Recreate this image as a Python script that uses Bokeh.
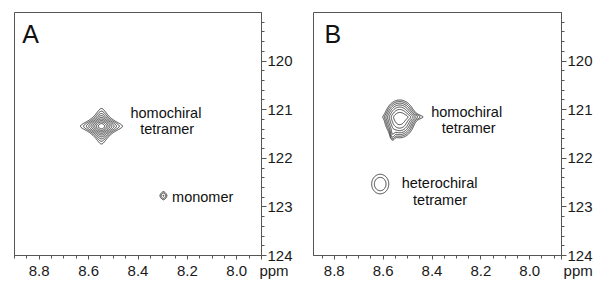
import numpy as np
from bokeh.plotting import figure
from bokeh.layouts import row
from bokeh.models import Range1d, FixedTicker, PrintfTickFormatter
from bokeh.core.properties import value
from bokeh.embed import file_html
from bokeh.resources import INLINE

FONT = "Liberation Sans"
INK = "#111111"
FRAME = "#555555"
NBSP = "\u00a0"

# ---------------- data ----------------
# Panel A: 2D cross-peaks (Lorentzian line shapes), ppm
a_peak_x = [8.548, 8.297]          # 1H
a_peak_y = [121.34, 122.77]        # 15N
a_peak_wx = [0.0233, 0.015]
a_peak_wy = [0.100, 0.090]
a_peak_amp = [1.0, 0.13]
a_peak_shape = ["l", "l"]
a_levels = [0.07, 0.0945, 0.128, 0.172, 0.233, 0.314, 0.424, 0.573, 0.773]

# Panel B: 2D cross-peaks, ppm  (shape: "g" Gaussian, "l" Lorentzian)
b_peak_x = [8.533, 8.500, 8.562, 8.612]
b_peak_y = [121.19, 121.15, 121.52, 122.53]
b_peak_wx = [0.030, 0.050, 0.007, 0.033]
b_peak_wy = [0.195, 0.060, 0.090, 0.190]
b_peak_amp = [0.56, 0.20, 0.10, 0.14]
b_peak_shape = ["g", "l", "g", "g"]
b_levels = [0.08, 0.108, 0.146, 0.197, 0.266, 0.359, 0.484]

# axis ticks
x_major_ticks = [8.8, 8.6, 8.4, 8.2, 8.0]
x_minor_ticks = [8.9, 8.85, 8.75, 8.7, 8.65, 8.55, 8.5, 8.45, 8.35, 8.3, 8.25,
                 8.15, 8.1, 8.05, 7.95, 7.9]
x_unit_label = "ppm"
y_major_ticks = [120, 121, 122, 123, 124]
y_minor_ticks = [119.2, 119.4, 119.6, 119.8, 120.2, 120.4, 120.6, 120.8,
                 121.2, 121.4, 121.6, 121.8, 122.2, 122.4, 122.6, 122.8,
                 123.2, 123.4, 123.6, 123.8]

# annotations
a_center_text = ["homochiral", "tetramer"]
a_center_x = [8.287, 8.282]
a_center_y = [121.07, 121.39]
a_left_text = ["monomer"]
a_left_x = [8.262]
a_left_y = [122.79]

b_center_text = ["homochiral", "tetramer", "heterochiral", "tetramer"]
b_center_x = [8.258, 8.250, 8.369, 8.367]
b_center_y = [121.05, 121.38, 122.50, 122.86]


def peak_grid(xs, ys, px, py, wx, wy, amp, shape):
    X, Y = np.meshgrid(xs, ys)
    Z = np.zeros_like(X)
    for x0, y0, a, b, h, s in zip(px, py, wx, wy, amp, shape):
        if s == "l":
            Z += h / ((1 + ((X - x0) / a) ** 2) * (1 + ((Y - y0) / b) ** 2))
        else:
            Z += h * np.exp(-0.5 * (((X - x0) / a) ** 2 + ((Y - y0) / b) ** 2))
    return Z


def make_panel(width, bl, br, xr, letter, letter_x, n_pad):
    p = figure(width=width, height=281, x_range=Range1d(*xr), y_range=Range1d(124, 119),
               y_axis_location="right", x_axis_location="below",
               output_backend="svg", toolbar_location=None,
               min_border_left=bl, min_border_right=br, min_border_top=12, min_border_bottom=23)
    p.grid.visible = False
    p.background_fill_color = "white"
    p.border_fill_color = "white"
    p.outline_line_color = FRAME
    p.outline_line_width = 1

    x_end = xr[1]
    xa = p.xaxis[0]
    xa.ticker = FixedTicker(ticks=x_major_ticks + [x_end],
                            minor_ticks=[t for t in x_minor_ticks if xr[1] <= t <= xr[0]])
    xa.formatter = PrintfTickFormatter(format="%.1f")
    xa.major_label_overrides = {x_end: NBSP * n_pad + x_unit_label}
    ya = p.yaxis[0]
    ya.ticker = FixedTicker(ticks=y_major_ticks, minor_ticks=y_minor_ticks)
    ya.formatter = PrintfTickFormatter(format="%d")
    for ax in (xa, ya):
        ax.axis_line_color = FRAME
        ax.major_tick_line_color = FRAME
        ax.minor_tick_line_color = FRAME
        ax.major_tick_in = 0
        ax.minor_tick_in = 0
        ax.major_label_text_font = FONT
        ax.major_label_text_font_size = "15px"
        ax.major_label_text_color = "#1a1a1a"
    xa.major_tick_out = 4
    xa.minor_tick_out = 3
    xa.major_label_standoff = 2
    ya.major_tick_out = 5
    ya.minor_tick_out = 3
    ya.major_label_standoff = 1

    p.text(x=[letter_x], y=[119.45], text=[letter], text_font=value(FONT),
           text_font_size="25px", text_align="left", text_baseline="middle",
           text_color=INK)
    return p


# ---------------- panel A ----------------
pa = make_panel(295, 14, 34, (8.9, 7.9), "A", 8.869, 6)
xs_a = np.linspace(7.9, 8.9, 800)
ys_a = np.linspace(119.0, 124.0, 800)
za = peak_grid(xs_a, ys_a, a_peak_x, a_peak_y, a_peak_wx, a_peak_wy, a_peak_amp, a_peak_shape)
pa.contour(x=xs_a, y=ys_a, z=za, levels=a_levels, line_color=INK, line_width=0.8)
pa.text(x=a_center_x, y=a_center_y, text=a_center_text, text_font=value(FONT),
        text_font_size="14.5px", text_align="center", text_baseline="middle", text_color=INK)
pa.text(x=a_left_x, y=a_left_y, text=a_left_text, text_font=value(FONT),
        text_font_size="14.5px", text_align="left", text_baseline="middle", text_color=INK)

# ---------------- panel B ----------------
pb = make_panel(300, 18, 33, (8.885, 7.87), "B", 8.840, 8)
xs_b = np.linspace(7.87, 8.885, 800)
ys_b = np.linspace(119.0, 124.0, 800)
zb = peak_grid(xs_b, ys_b, b_peak_x, b_peak_y, b_peak_wx, b_peak_wy, b_peak_amp, b_peak_shape)
pb.contour(x=xs_b, y=ys_b, z=zb, levels=b_levels, line_color=INK, line_width=0.8)
pb.text(x=b_center_x, y=b_center_y, text=b_center_text, text_font=value(FONT),
        text_font_size="14.5px", text_align="center", text_baseline="middle", text_color=INK)

layout = row(pa, pb)
open("out.html", "w").write(file_html(layout, INLINE))
